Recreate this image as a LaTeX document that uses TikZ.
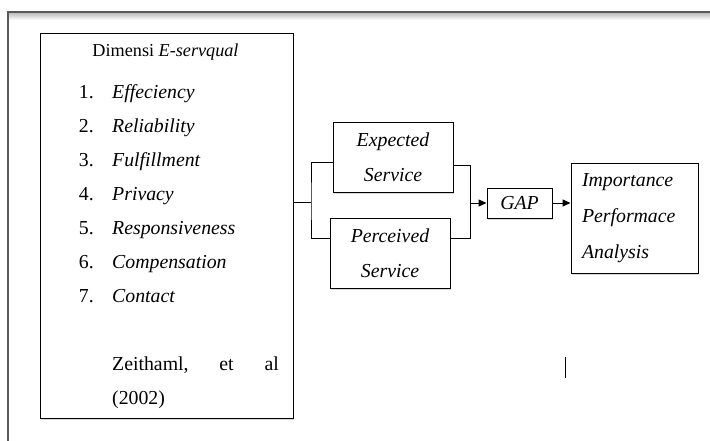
\documentclass[tikz,border=0pt]{standalone}
\usepackage{fontspec}
\setmainfont{Liberation Serif}
\usetikzlibrary{arrows.meta,shadows}

\tikzset{
  box/.style={draw, line width=1pt, fill=white, inner sep=2pt,
    drop shadow={shadow xshift=1.2pt, shadow yshift=-1.5pt, opacity=0.3}},
  num/.style={anchor=base east, inner sep=0pt},
  item/.style={anchor=base west, inner sep=0pt, font=\fontsize{19.8}{34}\selectfont\itshape},
  link/.style={line width=1pt},
  arr/.style={line width=1pt, -{Triangle[length=8pt,width=7pt]}},
}

\begin{document}
\begin{tikzpicture}[x=1pt, y=-1pt, font=\fontsize{19.8}{35}\selectfont]
    \useasboundingbox (0,0) rectangle (710,440);
    \clip (0,0) rectangle (710,440);
    % page frame
    \shade[top color=black!25, bottom color=white] (9,13) rectangle (710,20);
    \draw[line width=2pt, draw=black!65] (8,480) -- (8,12) -- (760,12);
    % dimension box
    \node[box, minimum width=253pt, minimum height=385pt] at (166.5,225.5) (Dim) {};
    \node[anchor=base, inner sep=0pt, font=\fontsize{18.2}{34}\selectfont]
      at (165.5,56) (Ttl) {Dimensi \textit{E-servqual}};
    % list of dimensions
    \node[num] at (94,98) (N1) {1.};
    \node[item] at (112,98) (E1) {Effeciency};
    \node[num] at (94,132) (N2) {2.};
    \node[item] at (112,132) (E2) {Reliability};
    \node[num] at (94,166) (N3) {3.};
    \node[item] at (112,166) (E3) {Fulfillment};
    \node[num] at (94,200) (N4) {4.};
    \node[item] at (112,200) (E4) {Privacy};
    \node[num] at (94,234) (N5) {5.};
    \node[item] at (112,234) (E5) {Responsiveness};
    \node[num] at (94,268) (N6) {6.};
    \node[item] at (112,268) (E6) {Compensation};
    \node[num] at (94,302) (N7) {7.};
    \node[item] at (112,302) (E7) {Contact};
    % source
    \node[anchor=base west, inner sep=0pt] at (112,370) (Z1) {Zeithaml,};
    \node[anchor=base, inner sep=0pt] at (226.5,370) (Z2) {et};
    \node[anchor=base east, inner sep=0pt] at (279,370) (Z3) {al};
    \node[anchor=base west, inner sep=0pt] at (112,404) (Yr) {(2002)};
    % service boxes
    \node[box, align=center, minimum width=120pt, minimum height=70pt,
      font=\fontsize{19.8}{35}\selectfont\itshape] at (393,157) (Exp) {Expected\\Service};
    \node[box, align=center, minimum width=120pt, minimum height=70pt,
      font=\fontsize{19.8}{35}\selectfont\itshape] at (390,253) (Per) {Perceived\\Service};
    % gap and analysis
    \node[box, minimum width=65pt, minimum height=30pt, font=\fontsize{19.8}{35}\selectfont\itshape]
      at (519.5,203) (Gap) {GAP};
    \node[box, align=left, text width=105pt, minimum width=127pt, minimum height=110pt,
      font=\fontsize{19.8}{36}\selectfont\itshape] at (634.5,218) (Ipa)
      {Importance\\Performace\\Analysis};
    % connectors
    \coordinate (fork) at (311,202);
    \coordinate (join) at (470,203);
    \draw[link] (Dim.east |- fork) -- (fork);
    \draw[link] ([yshift=-5pt]Exp.west) -| (fork) |- ([yshift=15pt]Per.west);
    \draw[link] ([yshift=-8pt]Exp.east) -| (join);
    \draw[link] ([yshift=15pt]Per.east) -| (join);
    \draw[arr] (join) -- (Gap.west);
    \draw[arr] (Gap.east) -- (Gap.east -| Ipa.west);
    % cursor mark
    \draw[line width=1pt] (565,357) -- (565,378);
\end{tikzpicture}
\end{document}
